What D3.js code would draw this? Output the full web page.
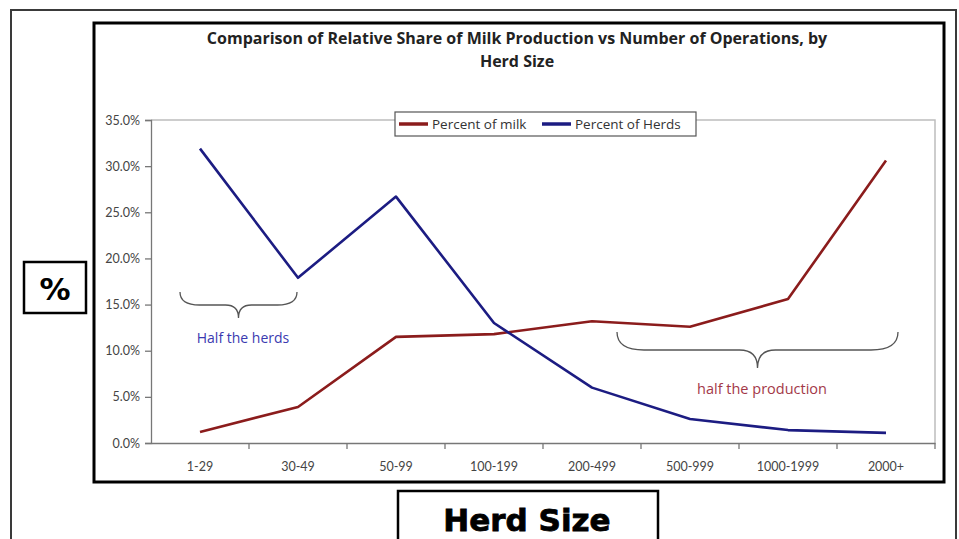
<!DOCTYPE html>
<html>
<head>
<meta charset="utf-8">
<script src="https://cdn.jsdelivr.net/npm/d3@7"></script>
<style>
  body { margin: 0; background: #fff; }
  svg { display: block; }
  .tick text { font-family: Lato, "Open Sans", sans-serif; fill: #444; }
</style>
</head>
<body>
<div id="chart"></div>
<script>
// Chart data
const herdSizes = ["1-29", "30-49", "50-99", "100-199", "200-499", "500-999", "1000-1999", "2000+"];
const percentMilk = [0.012, 0.039, 0.115, 0.118, 0.132, 0.126, 0.156, 0.306];
const percentHerds = [0.319, 0.179, 0.267, 0.130, 0.060, 0.026, 0.014, 0.011];
const yTicks = [0, 0.05, 0.10, 0.15, 0.20, 0.25, 0.30, 0.35];

const WIDTH = 959;
const HEIGHT = 539;
const PLOT = { left: 151, right: 935, top: 120, bottom: 443 };

const svg = d3.select("#chart")
  .append("svg")
  .attr("width", WIDTH)
  .attr("height", HEIGHT);

// Outer gray frame
svg.append("rect")
  .attr("x", 11).attr("y", 10)
  .attr("width", 945).attr("height", 540)
  .attr("fill", "none")
  .attr("stroke", "#3a3a3a")
  .attr("stroke-width", 2);

// Inner chart frame
svg.append("rect")
  .attr("x", 94).attr("y", 23)
  .attr("width", 850).attr("height", 459)
  .attr("fill", "#fff")
  .attr("stroke", "#000")
  .attr("stroke-width", 3);

// Title
const title = svg.append("text")
  .attr("text-anchor", "middle")
  .attr("font-family", "'Open Sans', sans-serif")
  .attr("font-weight", "bold")
  .attr("font-size", 16)
  .attr("fill", "#222");
title.append("tspan").attr("x", 517).attr("y", 44)
  .text("Comparison of Relative Share of Milk Production vs Number of Operations, by");
title.append("tspan").attr("x", 517).attr("y", 67).text("Herd Size");

// Scales
const x = d3.scaleBand()
  .domain(herdSizes)
  .range([PLOT.left, PLOT.right])
  .padding(0);

const y = d3.scaleLinear()
  .domain([0, 0.35])
  .range([PLOT.bottom, PLOT.top]);

const cx = d => x(d) + x.bandwidth() / 2;

// Plot area border (top and right)
svg.append("path")
  .attr("d", `M${PLOT.left},${PLOT.top}H${PLOT.right}V${PLOT.bottom}`)
  .attr("fill", "none")
  .attr("stroke", "#bdbdbd")
  .attr("stroke-width", 1.5);

// Y axis
const yAxis = svg.append("g")
  .attr("transform", `translate(${PLOT.left},0)`)
  .call(d3.axisLeft(y).tickValues(yTicks).tickFormat(d3.format(".1%")).tickSize(6).tickPadding(5));
yAxis.selectAll("text").attr("font-size", 12.5);
yAxis.selectAll("line, path").attr("stroke", "#777").attr("stroke-width", 1.3);

// X axis: labels centred on categories, ticks on category boundaries
const xAxis = svg.append("g")
  .attr("transform", `translate(0,${PLOT.bottom})`)
  .call(d3.axisBottom(x).tickSize(0).tickPadding(19));
xAxis.select(".domain").attr("stroke", "#777").attr("stroke-width", 1.3);
xAxis.selectAll("text").attr("font-size", 12.5);

xAxis.selectAll(".boundary")
  .data(herdSizes.slice(1).concat(["end"]))
  .enter()
  .append("line")
  .attr("class", "boundary")
  .attr("x1", d => d === "end" ? PLOT.right : x(d))
  .attr("x2", d => d === "end" ? PLOT.right : x(d))
  .attr("y1", 0)
  .attr("y2", 6)
  .attr("stroke", "#777")
  .attr("stroke-width", 1.3);

// Lines
const series = [
  { name: "Percent of milk", values: percentMilk, color: "#8b1c1c" },
  { name: "Percent of Herds", values: percentHerds, color: "#1c1c82" }
];

const line = d3.line()
  .x((v, i) => cx(herdSizes[i]))
  .y(v => y(v));

svg.selectAll(".series")
  .data(series)
  .enter()
  .append("path")
  .attr("class", "series")
  .attr("d", d => line(d.values))
  .attr("fill", "none")
  .attr("stroke", d => d.color)
  .attr("stroke-width", 2.6)
  .attr("stroke-linejoin", "round");

// Legend
const legend = svg.append("g");
legend.append("rect")
  .attr("x", 395).attr("y", 112)
  .attr("width", 301).attr("height", 24)
  .attr("fill", "#fff")
  .attr("stroke", "#555")
  .attr("stroke-width", 1.2);

const legendItems = [
  { x: 399, textX: 432 },
  { x: 542, textX: 575 }
];
series.forEach((s, i) => {
  legend.append("line")
    .attr("x1", legendItems[i].x).attr("x2", legendItems[i].x + 29)
    .attr("y1", 124).attr("y2", 124)
    .attr("stroke", s.color)
    .attr("stroke-width", 3.5);
  legend.append("text")
    .attr("x", legendItems[i].textX).attr("y", 129)
    .attr("font-family", "'Open Sans', sans-serif")
    .attr("font-size", 13.5)
    .attr("fill", "#333")
    .text(s.name);
});

// Curly brace helper
function brace(x1, x2, yTop, depth) {
  const mid = (x1 + x2) / 2;
  const yMid = yTop + depth;
  const r = depth;
  return `M${x1},${yTop} Q${x1},${yMid} ${x1 + r * 1.5},${yMid}` +
    ` H${mid - r} Q${mid},${yMid} ${mid},${yMid + depth}` +
    ` Q${mid},${yMid} ${mid + r},${yMid} H${x2 - r * 1.5}` +
    ` Q${x2},${yMid} ${x2},${yTop}`;
}

svg.append("path")
  .attr("d", brace(180, 297, 292, 13))
  .attr("fill", "none")
  .attr("stroke", "#555")
  .attr("stroke-width", 1.3);

svg.append("text")
  .attr("x", 243).attr("y", 343)
  .attr("text-anchor", "middle")
  .attr("font-family", "'Open Sans', sans-serif")
  .attr("font-size", 14)
  .attr("fill", "#3a3ab0")
  .text("Half the herds");

svg.append("path")
  .attr("d", brace(617, 898, 332, 18))
  .attr("fill", "none")
  .attr("stroke", "#555")
  .attr("stroke-width", 1.3);

svg.append("text")
  .attr("x", 762).attr("y", 394)
  .attr("text-anchor", "middle")
  .attr("font-family", "'Open Sans', sans-serif")
  .attr("font-size", 14.5)
  .attr("fill", "#a33848")
  .text("half the production");

// "%" axis box
svg.append("rect")
  .attr("x", 24).attr("y", 262)
  .attr("width", 62).attr("height", 51)
  .attr("fill", "#fff")
  .attr("stroke", "#000")
  .attr("stroke-width", 2.5);
svg.append("text")
  .attr("x", 55).attr("y", 300)
  .attr("text-anchor", "middle")
  .attr("font-family", "'DejaVu Sans', sans-serif")
  .attr("font-weight", "bold")
  .attr("font-size", 31)
  .attr("fill", "#000")
  .text("%");

// "Herd Size" axis box
svg.append("rect")
  .attr("x", 398).attr("y", 491)
  .attr("width", 260).attr("height", 60)
  .attr("fill", "#fff")
  .attr("stroke", "#000")
  .attr("stroke-width", 2.5);
svg.append("text")
  .attr("x", 527).attr("y", 531)
  .attr("text-anchor", "middle")
  .attr("font-family", "'DejaVu Sans', sans-serif")
  .attr("font-weight", "bold")
  .attr("font-size", 31)
  .attr("stroke", "#000")
  .attr("stroke-width", 0.8)
  .attr("fill", "#000")
  .text("Herd Size");
</script>
</body>
</html>
